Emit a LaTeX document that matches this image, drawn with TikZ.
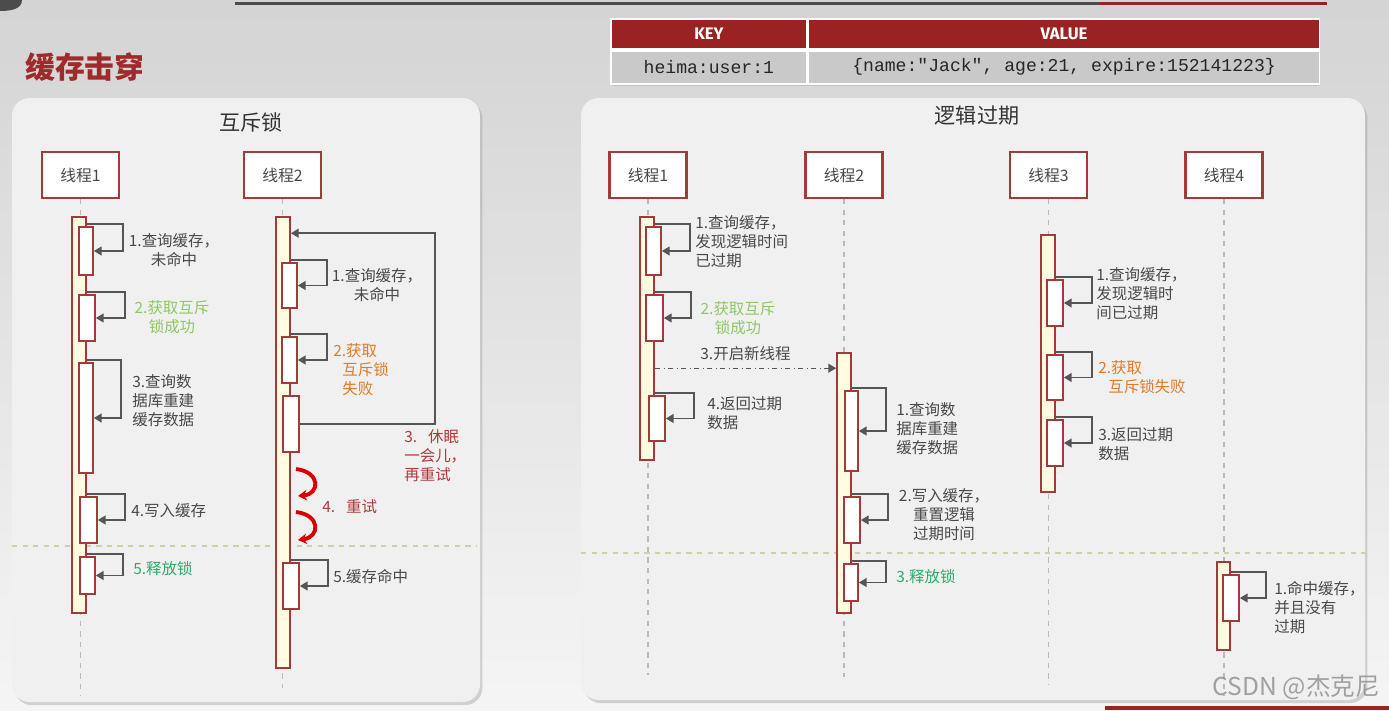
\documentclass[tikz,border=0pt]{standalone}
\usepackage{fontspec}
\setmainfont{Noto Sans CJK SC}
\newfontfamily\monofont{Liberation Mono}
\newfontfamily\headfont{Fira Sans}
\usetikzlibrary{arrows.meta, calc, fit, positioning, shadows}

\definecolor{lockred}{HTML}{A33A3A}
\definecolor{barfill}{HTML}{FFFBE0}
\definecolor{loopgray}{HTML}{555555}
\definecolor{txtgray}{HTML}{484848}
\definecolor{okgreen}{HTML}{8CC864}
\definecolor{relgreen}{HTML}{2EAA6A}
\definecolor{failorange}{HTML}{E07B28}
\definecolor{sleepred}{HTML}{B03A3A}
\definecolor{titlered}{HTML}{9E2A2B}
\definecolor{headred}{HTML}{9B2222}
\definecolor{rowgray}{HTML}{C9C9C9}
\definecolor{panelgray}{HTML}{F0F0F0}
\definecolor{splitline}{HTML}{CFCFA8}

\tikzset{
  thread/.style={draw=lockred, line width=1.2pt, fill=white, minimum width=1.54cm, minimum height=0.92cm, inner sep=0pt, text=txtgray, font=\fontsize{9}{11}\selectfont},
  lifeline/.style={draw=gray!55, dashed, line width=0.6pt},
  actbar/.style={draw=lockred, fill=barfill, line width=0.9pt, inner sep=0pt},
  actbox/.style={draw=lockred, fill=white, line width=0.9pt, inner sep=0pt},
  selfcall/.style={draw=loopgray, line width=1.1pt, -{Triangle[length=4.5pt,width=5pt]}},
  callline/.style={draw=loopgray, dash dot, line width=0.8pt, -{Triangle[length=4.5pt,width=5pt]}},
  note/.style={anchor=north west, align=left, inner sep=0pt, text=txtgray, font=\fontsize{8.8}{10.8}\selectfont},
  panel/.style={fill=panelgray, rounded corners=10pt, drop shadow={opacity=0.3, shadow xshift=1.4pt, shadow yshift=-1.8pt}},
  splitrow/.style={draw=splitline, dashed, line width=0.6pt},
  retry/.style={draw=red!85!black, line width=2.2pt, -{Stealth[length=5pt,width=6pt]}},
  keyhd/.style={fill=headred, draw=white, line width=1pt, text=white, minimum height=0.6cm, inner sep=0pt, font=\headfont\bfseries\fontsize{9.5}{11}\selectfont},
  keycell/.style={fill=rowgray, draw=white, line width=1pt, text=black!85, minimum height=0.66cm, inner sep=0pt, font=\monofont\fontsize{10.3}{12}\selectfont},
}

\begin{document}
\begin{tikzpicture}[x=0.02cm, y=-0.02cm]
	\useasboundingbox (0,0) rectangle (1389,710);
	\shade[top color=black!17, bottom color=black!4] (0,0) rectangle (1389,710);

	% slide decoration
	\fill[black!70] (0,0) -- (22,0) to[out=-90, in=0] (0,11) -- cycle;
	\fill[black!70] (235,2) rectangle (1100,5);
	\fill[headred] (1100,2) rectangle (1327,5);
	\fill[headred] (1105,706) rectangle (1389,710);

	\node[anchor=west, font=\fontsize{17}{20}\selectfont\bfseries, text=titlered] (title) at (19,67) {缓存击穿};

	% key / value table
	\path[fill=white, drop shadow={opacity=0.25, shadow xshift=1pt, shadow yshift=-1.5pt}] (610,18) rectangle (1317,83);
	\node[keyhd, anchor=north west, minimum width=3.92cm] (khead) at (610,18) {KEY};
	\node[keyhd, right=0pt of khead, minimum width=10.22cm] (vhead) {VALUE};
	\node[keycell, below=0pt of khead, minimum width=3.92cm] (kcell) {heima:user:1};
	\node[keycell, below=0pt of vhead, minimum width=10.22cm] (vcell) {\{name:"Jack", age:21, expire:152141223\}};

	% panels
	\path[panel] (12,98) rectangle (480,702);
	\path[panel] (581,98) rectangle (1365,700);
	\node[text=black!80, font=\fontsize{12}{14}\selectfont] (lockttl) at (251,122) {互斥锁};
	\node[text=black!80, font=\fontsize{12}{14}\selectfont] (expttl) at (977,116) {逻辑过期};

	\draw[splitrow] (12,546) -- (476,546);
	\draw[splitrow] (581,553) -- (1365,553);

	% ---- mutex ----
	\node[thread] (t1) at (80.5,175) {线程1};
	\node[thread] (t2) at (282.5,175) {线程2};
	\draw[lifeline] (t1.south) -- (t1.south |- 0,695);
	\draw[lifeline] (t2.south) -- (t2.south |- 0,688);

	\node[actbar, fit={(72,217) (86,613)}] (a1) {};
	\node[actbox, fit={(79,227) (93,275)}] (b11) {};
	\node[actbox, fit={(79,295) (95,341)}] (b12) {};
	\node[actbox, fit={(79,363) (93,473)}] (b13) {};
	\node[actbox, fit={(80,497) (97,543)}] (b14) {};
	\node[actbox, fit={(80,557) (95,594)}] (b15) {};

	\draw[selfcall] ($(a1.east |- b11.north)+(0,-2)$) -- ++(36,0) |- (b11.east);
	\draw[selfcall] ($(a1.east |- b12.north)+(0,-2)$) -- ++(38,0) |- (b12.east);
	\draw[selfcall] ($(a1.east |- b13.north)+(0,-2)$) -- ++(34,0) |- (b13.east);
	\draw[selfcall] ($(a1.east |- b14.north)+(0,-2)$) -- ++(38,0) |- (b14.east);
	\draw[selfcall] ($(a1.east |- b15.north)+(0,-2)$) -- ++(36,0) |- (b15.east);

	\node[note, anchor=north, align=center] (n11) at (174,233) {1.查询缓存，\\未命中};
	\node[note, anchor=north, align=center, text=okgreen] (n12) at (172,300) {2.获取互斥\\锁成功};
	\node[note] (n13) at (132,374) {3.查询数\\据库重建\\缓存数据};
	\node[note] (n14) at (131,503) {4.写入缓存};
	\node[note, text=relgreen] (n15) at (133,561) {5.释放锁};

	\node[actbar, fit={(276,217) (290,668)}] (a2) {};
	\node[actbox, fit={(282,263) (297,308)}] (b21) {};
	\node[actbox, fit={(282,337) (297,383)}] (b22) {};
	\node[actbox, fit={(283,396) (299,452)}] (b23) {};
	\node[actbox, fit={(283,563) (299,609)}] (b24) {};

	\draw[selfcall] ($(a2.east |- b21.north)+(0,-2)$) -- ++(36,0) |- (b21.east);
	\draw[selfcall] ($(a2.east |- b22.north)+(0,-2)$) -- ++(36,0) |- (b22.east);
	\draw[selfcall] (b23.east) -- ++(135,0) |- ($(a2.north east)+(0,17)$);
	\draw[selfcall] ($(a2.east |- b24.north)+(0,-2)$) -- ++(37,0) |- (b24.east);

	\draw[retry] (296,469) .. controls (321,472) and (320,494) .. (298,496);
	\draw[retry] (296,512) .. controls (321,515) and (320,537) .. (298,540);

	\node[note, anchor=north, align=center] (n21) at (377,268) {1.查询缓存，\\未命中};
	\node[note, text=failorange] (n22) at (333,343) {2.获取\\\hspace*{0.18cm}互斥锁\\\hspace*{0.18cm}失败};
	\node[note, text=sleepred] (n23) at (404,429) {3.\hspace{0.7em}休眠\\一会儿，\\再重试};
	\node[note, text=sleepred] (n24) at (322,499) {4.\hspace{0.7em}重试};
	\node[note] (n25) at (333,569) {5.缓存命中};

	% ---- logical expire ----
	\node[thread] (r1) at (648,175) {线程1};
	\node[thread] (r2) at (844,175) {线程2};
	\node[thread] (r3) at (1048.5,175) {线程3};
	\node[thread] (r4) at (1224,175) {线程4};
	\draw[lifeline] (r1.south) -- (r1.south |- 0,675);
	\draw[lifeline] (r2.south) -- (r2.south |- 0,677);
	\draw[lifeline] (r3.south) -- (r3.south |- 0,685);
	\draw[lifeline] (r4.south) -- (r4.south |- 0,695);

	\node[actbar, fit={(640,217) (654,460)}] (ra1) {};
	\node[actbox, fit={(646,227) (661,275)}] (c11) {};
	\node[actbox, fit={(646,295) (663,341)}] (c12) {};
	\node[actbox, fit={(649,396) (665,441)}] (c14) {};

	\node[actbar, fit={(837,353) (851,613)}] (ra2) {};
	\node[actbox, fit={(845,391) (858,471)}] (c21) {};
	\node[actbox, fit={(844,497) (860,543)}] (c22) {};
	\node[actbox, fit={(844,564) (858,601)}] (c23) {};

	\node[actbar, fit={(1041,235) (1055,492)}] (ra3) {};
	\node[actbox, fit={(1047,280) (1063,326)}] (c31) {};
	\node[actbox, fit={(1047,355) (1063,400)}] (c32) {};
	\node[actbox, fit={(1047,420) (1063,466)}] (c33) {};

	\node[actbar, fit={(1217,562) (1230,650)}] (ra4) {};
	\node[actbox, fit={(1223,575) (1239,621)}] (c41) {};

	\draw[selfcall] ($(ra1.east |- c11.north)+(0,-2)$) -- ++(35,0) |- (c11.east);
	\draw[selfcall] ($(ra1.east |- c12.north)+(0,-2)$) -- ++(36,0) |- (c12.east);
	\draw[selfcall] ($(ra1.east |- c14.north)+(0,-2)$) -- ++(39,0) |- (c14.east);
	\draw[callline] ($(ra1.east |- ra2.north)+(0,16)$) -- ($(ra2.north west)+(0,16)$)
		node[midway, above=0.5pt, text=txtgray, font=\fontsize{8.8}{10.8}\selectfont] {3.开启新线程};

	\draw[selfcall] ($(ra2.east |- c21.north)+(0,-2)$) -- ++(34,0) |- (c21.east);
	\draw[selfcall] ($(ra2.east |- c22.north)+(0,-2)$) -- ++(36,0) |- (c22.east);
	\draw[selfcall] ($(ra2.east |- c23.north)+(0,-2)$) -- ++(34,0) |- (c23.east);

	\draw[selfcall] ($(ra3.east |- c31.north)+(0,-2)$) -- ++(36,0) |- (c31.east);
	\draw[selfcall] ($(ra3.east |- c32.north)+(0,-2)$) -- ++(36,0) |- (c32.east);
	\draw[selfcall] ($(ra3.east |- c33.north)+(0,-2)$) -- ++(36,0) |- (c33.east);

	\draw[selfcall] ($(ra4.east |- c41.north)+(0,-2)$) -- ++(35,0) |- (c41.east);

	\node[note] (m11) at (695,215) {1.查询缓存，\\发现逻辑时间\\已过期};
	\node[note, anchor=north, align=center, text=okgreen] (m12) at (738,301) {2.获取互斥\\锁成功};
	\node[note] (m14) at (707,396) {4.返回过期\\数据};

	\node[note] (m21) at (896,402) {1.查询数\\据库重建\\缓存数据};
	\node[note, anchor=north, align=center] (m22) at (944,488) {2.写入缓存，\\重置逻辑\\过期时间};
	\node[note, text=relgreen] (m23) at (896,569) {3.释放锁};

	\node[note] (m31) at (1096,267) {1.查询缓存，\\发现逻辑时\\间已过期};
	\node[note, text=failorange] (m32) at (1098,360) {2.获取\\\hspace*{0.2cm}互斥锁失败};
	\node[note] (m33) at (1098,427) {3.返回过期\\数据};

	\node[note] (m41) at (1274,581) {1.命中缓存，\\并且没有\\过期};

	\node[anchor=east, text=black!45, opacity=0.8, font=\fontsize{14}{16}\selectfont] (mark) at (1386,687) {CSDN @杰克尼};
\end{tikzpicture}
\end{document}
